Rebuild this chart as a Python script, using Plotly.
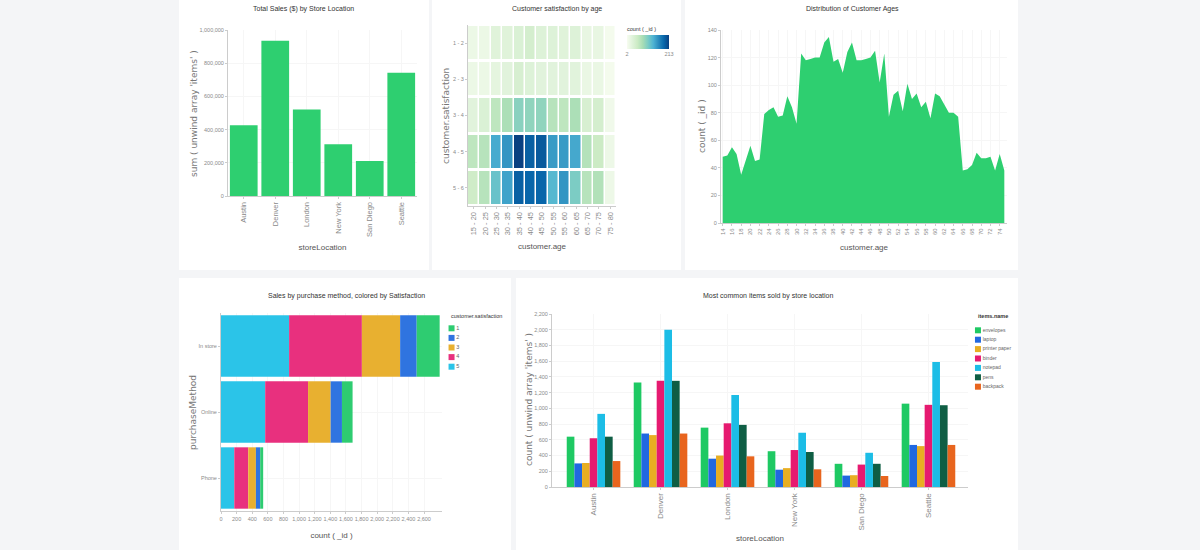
import numpy as np
import plotly.graph_objects as go

W, H = 1200, 550

# --- data ---
stores = ["Austin", "Denver", "London", "New York", "San Diego", "Seattle"]
total_sales = [426000, 935000, 521000, 312000, 211000, 742000]

age_bins = ["15 - 20", "20 - 25", "25 - 30", "30 - 35", "35 - 40", "40 - 45", "45 - 50",
            "50 - 55", "55 - 60", "60 - 65", "65 - 70", "70 - 75", "75 - 80"]
satisfaction_bins = ["1 - 2", "2 - 3", "3 - 4", "4 - 5", "5 - 6"]
sat_1_2 = [15, 15, 29, 29, 36, 44, 32, 32, 29, 32, 19, 19, 6]
sat_2_3 = [15, 15, 23, 27, 40, 32, 27, 27, 27, 27, 17, 17, 6]
sat_3_4 = [27, 36, 65, 78, 99, 95, 95, 70, 65, 78, 40, 44, 10]
sat_4_5 = [65, 70, 139, 154, 213, 192, 196, 150, 150, 141, 72, 55, 13]
sat_5_6 = [51, 70, 118, 145, 192, 188, 188, 129, 154, 107, 70, 74, 13]

ages = list(range(14, 76))
age_counts = [48, 49, 55, 50, 35, 45, 56, 45, 46, 79, 82, 84, 77, 78, 92, 84,
              72, 123, 118, 119, 120, 120, 131, 135, 117, 119, 109, 124, 131, 118,
              118, 119, 120, 125, 102, 123, 77, 93, 96, 81, 101, 90, 94, 84, 88, 76,
              94, 92, 86, 80, 80, 77, 38, 39, 42, 51, 47, 47, 48, 38, 50, 38]

methods = ["In store", "Online", "Phone"]
satisfaction_levels = ["5", "4", "3", "2", "1"]
method_counts_5 = [872, 566, 170]
method_counts_4 = [932, 549, 179]
method_counts_3 = [490, 289, 98]
method_counts_2 = [212, 145, 55]
method_counts_1 = [294, 136, 38]

item_names = ["envelopes", "laptop", "printer paper", "binder", "notepad", "pens", "backpack"]
envelopes = [640, 1330, 755, 455, 295, 1060]
laptop = [300, 680, 360, 220, 145, 535]
printer_paper = [305, 660, 400, 240, 150, 520]
binder = [620, 1350, 810, 470, 285, 1045]
notepad = [930, 2000, 1170, 690, 435, 1590]
pens = [640, 1350, 790, 445, 295, 1040]
backpack = [330, 680, 390, 225, 140, 535]

GREEN = "#2ecf70"
SAT_COLORS = {"1": "#2ecc71", "2": "#2f74e0", "3": "#e8b030", "4": "#e8307e", "5": "#2bc4e8"}
ITEM_COLORS = ["#1ec963", "#2168e0", "#e8ae22", "#e61a70", "#1cbde6", "#0f5e44", "#e8651e"]

TICK = dict(family="Liberation Sans", size=5.5, color="#8a8a8a")
AXIS_TITLE = dict(family="Liberation Sans", size=8, color="#555555")
Y_TITLE = dict(family="DejaVu Sans", size=9, color="#777777")
TITLE = dict(family="Liberation Sans", size=7, color="#333333")


def dom_x(left, right):
    return [left / W, right / W]


def dom_y(top, bottom):
    return [1 - bottom / H, 1 - top / H]


def x_axis(domain, anchor, title, standoff, tick_size=6, **kwargs):
    return dict(domain=domain, anchor=anchor, title=dict(text=title, font=AXIS_TITLE, standoff=standoff),
                tickfont=dict(TICK, size=tick_size), ticks="outside", ticklen=2, tickcolor="#cccccc",
                linecolor="#cccccc", showline=True, gridcolor="#f6f6f6", zeroline=False, automargin=False, **kwargs)


def y_axis(domain, anchor, **kwargs):
    return dict(domain=domain, anchor=anchor, tickfont=TICK, ticks="outside", ticklen=2, tickcolor="#cccccc",
                linecolor="#cccccc", showline=True, gridcolor="#f6f6f6", zeroline=False, automargin=False, **kwargs)


def card(x0, y0, x1, y1):
    return dict(type="rect", xref="paper", yref="paper", x0=x0 / W, x1=x1 / W, y0=1 - y1 / H, y1=1 - y0 / H,
                fillcolor="white", line_width=0, layer="below")


def chart_title(text, x, y):
    return dict(text=text, xref="paper", yref="paper", x=x / W, y=1 - y / H, xanchor="center", yanchor="middle",
                showarrow=False, font=TITLE)


def y_title(text, x, y):
    return dict(text=text, xref="paper", yref="paper", x=x / W, y=1 - y / H, xanchor="center", yanchor="middle",
                textangle=-90, showarrow=False, font=Y_TITLE)


def small_label(text, x, y, size=6):
    return dict(text=text, xref="paper", yref="paper", x=x / W, y=1 - y / H, xanchor="left", yanchor="middle",
                showarrow=False, xshift=-1, font=dict(family="Liberation Sans", size=size, color="#333333"))


fig = go.Figure()

# total sales
fig.add_trace(go.Bar(x=stores, y=total_sales, width=0.88, marker_color=GREEN, marker_line_width=0,
                     xaxis="x", yaxis="y", showlegend=False))

# satisfaction heatmap
fig.add_trace(go.Heatmap(
    x=age_bins, y=satisfaction_bins, z=[sat_1_2, sat_2_3, sat_3_4, sat_4_5, sat_5_6],
    colorscale="GnBu", zmin=2, zmax=213, xgap=1.5, ygap=3, xaxis="x2", yaxis="y2",
    colorbar=dict(orientation="h", x=627 / W, xanchor="left", y=1 - 35 / H, yanchor="top", thickness=14,
                  len=42, lenmode="pixels", xpad=0, ypad=0, outlinewidth=0, ticks="", tickvals=[2, 213],
                  tickfont=TICK)))

# age distribution
fig.add_trace(go.Scatter(x=ages, y=age_counts, mode="lines", line=dict(width=0), fill="tozeroy",
                         fillcolor=GREEN, xaxis="x3", yaxis="y3", showlegend=False))

# purchase method, stacked through base so that the other panel can stay grouped
method_counts = [method_counts_5, method_counts_4, method_counts_3, method_counts_2, method_counts_1]
bases = np.cumsum([[0, 0, 0]] + method_counts[:-1], axis=0)
for level, counts, base in zip(satisfaction_levels, method_counts, bases):
    fig.add_trace(go.Bar(y=methods, x=counts, base=base.tolist(), orientation="h", offsetgroup="stack", width=0.93,
                         marker_color=SAT_COLORS[level], marker_line_width=0, xaxis="x4", yaxis="y4",
                         showlegend=False))

# items per store
item_counts = [envelopes, laptop, printer_paper, binder, notepad, pens, backpack]
for name, counts, color in zip(item_names, item_counts, ITEM_COLORS):
    fig.add_trace(go.Bar(x=stores, y=counts, name=name, marker_color=color, marker_line_width=0,
                         xaxis="x5", yaxis="y5", showlegend=False))

# hand made legends, plotly's own has a minimum row height much taller than these
sat_names = sorted(SAT_COLORS)
fig.add_trace(go.Scatter(x=[0] * 5, y=sat_names, mode="markers+text", text=sat_names, textposition="middle right",
                         textfont=dict(family="Liberation Sans", size=5.5, color="#666666"),
                         marker=dict(symbol="square", size=6, color=[SAT_COLORS[s] for s in sat_names]),
                         xaxis="x6", yaxis="y6", showlegend=False, cliponaxis=False))
fig.add_trace(go.Scatter(x=[0] * 7, y=item_names, mode="markers+text", text=item_names, textposition="middle right",
                         textfont=dict(family="Liberation Sans", size=5, color="#666666"),
                         marker=dict(symbol="square", size=6, color=ITEM_COLORS),
                         xaxis="x7", yaxis="y7", showlegend=False, cliponaxis=False))

hidden = dict(visible=False, fixedrange=True)

fig.update_layout(
    width=W, height=H, margin=dict(l=0, r=0, t=0, b=0), paper_bgcolor="#f4f5f7", plot_bgcolor="white",
    barmode="group", bargap=0.2, bargroupgap=0,
    shapes=[card(179, -5, 429, 270), card(432, -5, 681, 270), card(685, -5, 1018, 270),
            card(179, 278, 511, 555), card(516, 278, 1018, 555)],
    annotations=[
        chart_title("Total Sales ($) by Store Location", 303, 9),
        chart_title("Customer satisfaction by age", 557, 9),
        chart_title("Distribution of Customer Ages", 852, 9),
        chart_title("Sales by purchase method, colored by Satisfaction", 346, 296),
        chart_title("Most common items sold by store location", 768, 296),
        y_title("sum ( unwind array 'items' )", 194, 113),
        y_title("customer.satisfaction", 446, 116),
        y_title("count ( _id )", 702, 126),
        y_title("purchaseMethod", 193, 413),
        y_title("count ( unwind array 'items' )", 529, 400),
        small_label("count ( _id )", 626, 29, 5.5),
        small_label("customer.satisfaction", 450, 316, 5.5),
        small_label("<b>items.name</b>", 977, 316, 5.5),
    ],
    xaxis=x_axis(dom_x(228, 417), "y", "storeLocation", 8, tick_size=7.5, tickangle=-90),
    yaxis=y_axis(dom_y(30, 196), "x", range=[0, 1000000], dtick=200000, tickformat=","),
    xaxis2=x_axis(dom_x(468, 616), "y2", "customer.age", 9, tick_size=7.5, tickangle=-90, categoryorder="array",
                  categoryarray=age_bins, showgrid=False),
    yaxis2=y_axis(dom_y(25, 206), "x2", autorange="reversed", showgrid=False),
    xaxis3=x_axis(dom_x(721, 1007), "y3", "customer.age", 10, tickangle=-90, range=[13.63, 75.58], tick0=14, dtick=2),
    yaxis3=y_axis(dom_y(30, 223), "x3", range=[0, 140], dtick=20),
    xaxis4=x_axis(dom_x(221, 442), "y4", "count ( _id )", 11, tick_size=5.5, tickangle=0, range=[0, 2830],
                  tickvals=list(range(0, 2800, 200)), tickformat=","),
    yaxis4=y_axis(dom_y(313, 511), "x4", autorange="reversed", categoryorder="array", categoryarray=methods),
    xaxis5=x_axis(dom_x(552, 968), "y5", "storeLocation", 5, tick_size=8, tickangle=-90, range=[-0.62, 5.59]),
    yaxis5=y_axis(dom_y(314, 487), "x5", range=[0, 2200], dtick=200, tickformat=","),
    xaxis6=dict(domain=dom_x(450, 490), anchor="y6", range=[-0.2, 5], **hidden),
    yaxis6=dict(domain=dom_y(322, 373), anchor="x6", autorange="reversed", **hidden),
    xaxis7=dict(domain=dom_x(975, 1015), anchor="y7", range=[-0.4, 5], **hidden),
    yaxis7=dict(domain=dom_y(323, 394), anchor="x7", autorange="reversed", **hidden),
)

fig.write_html("out.html", config={"displayModeBar": False}, post_script="document.body.style.margin='0';")
